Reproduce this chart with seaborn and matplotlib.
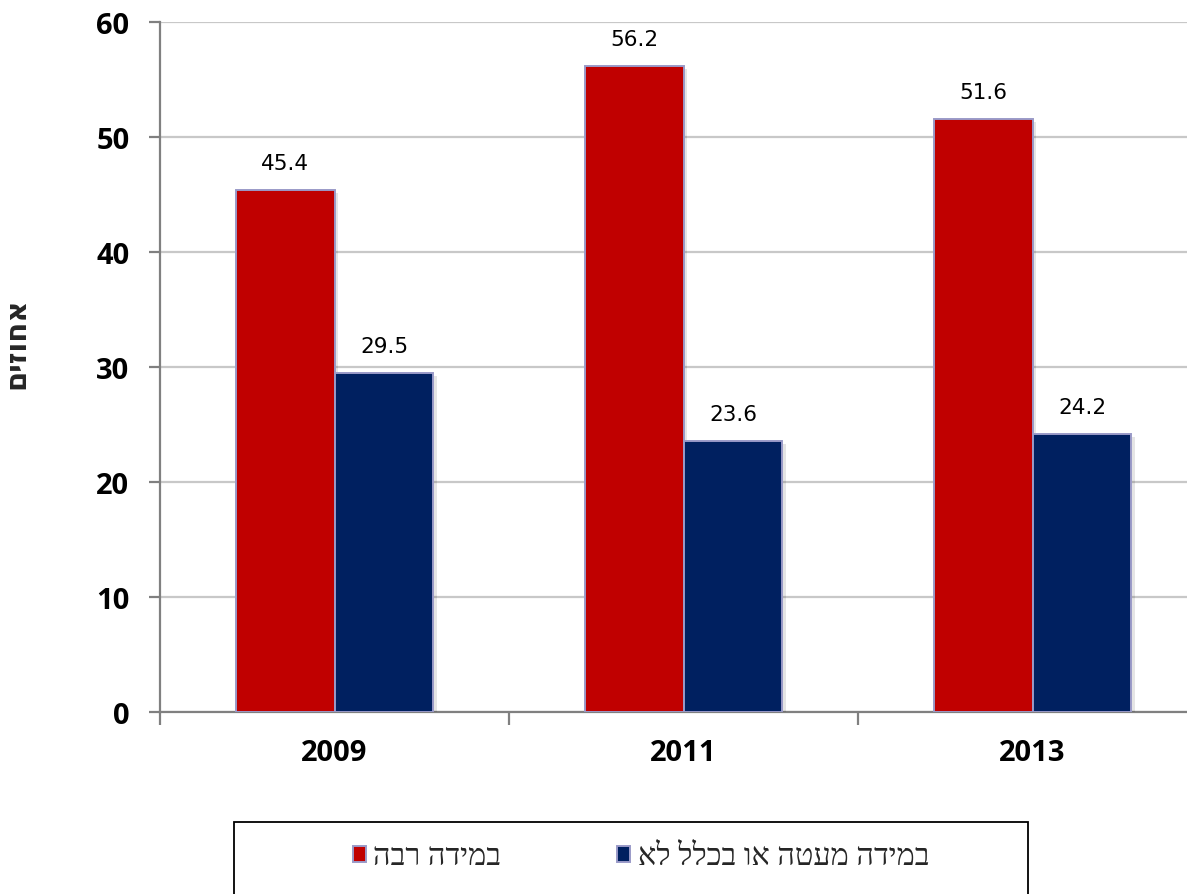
import matplotlib
matplotlib.use("Agg")
import matplotlib.pyplot as plt
import matplotlib.patheffects as pe
from matplotlib.patches import Patch, Rectangle
import seaborn as sns
import pandas as pd

# Survey results (percent) by year
years = ["2009", "2011", "2013"]
series_names = ["במידה רבה", "במידה מעטה או בכלל לא"]
values_high = [45.4, 56.2, 51.6]
values_low = [29.5, 23.6, 24.2]
y_ticks = [0, 10, 20, 30, 40, 50, 60]
y_label = "אחוזים"

colors = ["#C00000", "#002060"]
edge_color = "#9A9AC8"


def visual(s):
    # matplotlib lays text out left-to-right; reverse Hebrew for display
    return s[::-1]


df = pd.DataFrame({
    "year": years * 2,
    "value": values_high + values_low,
    "series": [series_names[0]] * len(years) + [series_names[1]] * len(years),
})

sns.set_theme(style="white")
plt.rcParams["font.family"] = ["DejaVu Sans"]

fig = plt.figure(figsize=(11.87, 8.95), dpi=100)
ax = fig.add_axes([160 / 1187, 1 - 713 / 895, 1047 / 1187, 690 / 895])

sns.barplot(data=df, x="year", y="value", hue="series", hue_order=series_names,
            palette=colors, width=0.567, dodge=True, gap=0, saturation=1,
            edgecolor=edge_color, linewidth=1.4, legend=False, ax=ax, zorder=3)

shadow = [pe.SimplePatchShadow(offset=(2.5, -2.5), shadow_rgbFace="#000000", alpha=0.10),
          pe.Normal()]
for bar in ax.patches:
    bar.set_path_effects(shadow)

# value labels above each bar
for container in ax.containers:
    for bar in container:
        h = bar.get_height()
        ax.annotate(f"{h:.1f}", (bar.get_x() + bar.get_width() / 2, h),
                    xytext=(0, 12), textcoords="offset points",
                    ha="center", va="bottom", fontsize=15.5, color="black")

ax.set_ylim(0, 60)
ax.set_xlim(-0.5, 2.5)
ax.set_yticks(y_ticks)
ax.set_yticklabels([str(t) for t in y_ticks], fontsize=21, fontweight="bold",
                   family=["Open Sans", "DejaVu Sans"])
ax.set_xticks(range(len(years)))
ax.set_xticklabels(years, fontsize=21, fontweight="bold",
                   family=["Open Sans", "DejaVu Sans"])
ax.set_xticks([-0.5, 0.5, 1.5, 2.5], minor=True)

ax.grid(axis="y", color="#C8C8C8", linewidth=1.6, zorder=0)
ax.set_axisbelow(True)

for side in ["top", "right"]:
    ax.spines[side].set_visible(False)
for side in ["left", "bottom"]:
    ax.spines[side].set_color("#808080")
    ax.spines[side].set_linewidth(1.6)

ax.tick_params(axis="y", which="major", left=True, length=8, width=1.6,
               color="#808080", pad=14, labelcolor="black")
ax.tick_params(axis="x", which="major", bottom=False, length=0, pad=19,
               labelcolor="black")
ax.tick_params(axis="x", which="minor", bottom=True, length=9, width=1.6,
               color="#808080", direction="out")

ax.set_xlabel("")
ax.set_ylabel(visual(y_label), fontsize=21, fontweight="bold")
ax.yaxis.set_label_coords(-130 / 1047, 0.536)

# legend with its own frame
handles = [Patch(facecolor=c, edgecolor=edge_color, linewidth=1.4) for c in colors]
fig.legend(handles, [visual(s) for s in series_names], ncol=2,
           loc="center", bbox_to_anchor=(641 / 1187, 1 - 858 / 895),
           frameon=False, handlelength=0.42, handleheight=0.42,
           handletextpad=0.25, columnspacing=3.8,
           prop={"family": ["Liberation Serif", "DejaVu Serif"], "size": 22})
fig.patches.append(Rectangle((234 / 1187, -0.01), (1028 - 234) / 1187,
                             1 - 823 / 895 + 0.01, transform=fig.transFigure,
                             fill=False, edgecolor="black", linewidth=1.3))

fig.savefig("out.png", dpi=100)
